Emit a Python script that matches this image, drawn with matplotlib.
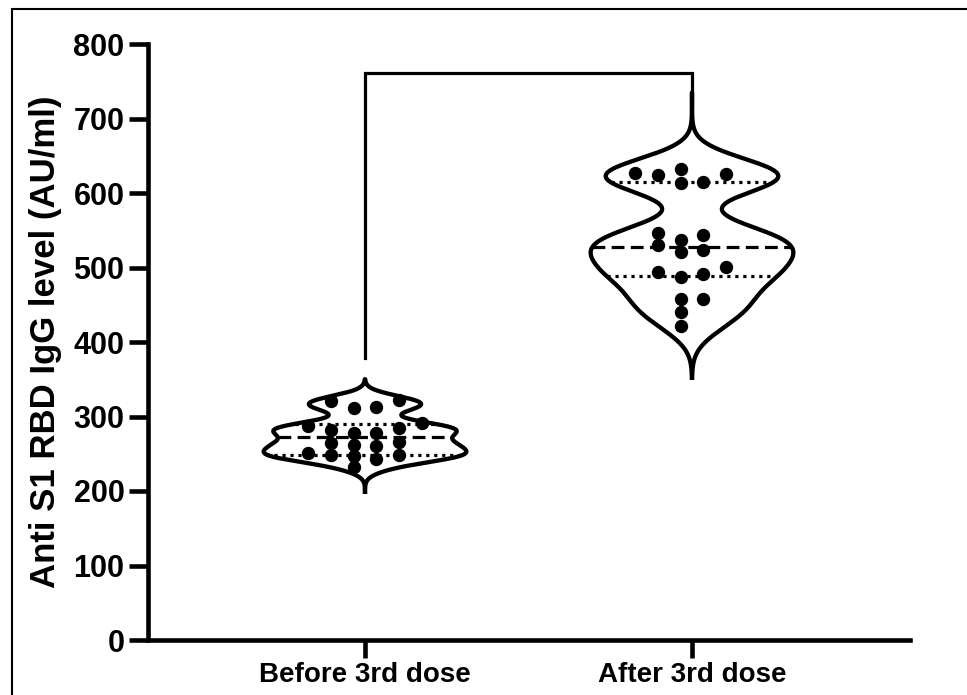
import numpy as np
import matplotlib
matplotlib.use("Agg")
import matplotlib.pyplot as plt
from matplotlib.patches import Rectangle

# ---------------- data ----------------
categories = ["Before 3rd dose", "After 3rd dose"]
before_vals = [321.2, 311.4, 322.1, 312.8, 287.2, 291.3, 284.6, 277.9, 281.9, 277.9,
               265.8, 261.7, 260.4, 264.4, 251.0, 247.0, 243.0, 248.3, 248.3, 232.2]
after_vals = [625.5, 631.8, 613.8, 614.4, 624.2, 626.4, 543.6, 546.7, 530.2, 536.9,
              521.2, 523.5, 487.7, 494.4, 491.3, 501.1, 457.7, 457.7, 440.7, 421.5]
violin_extent = [(199, 350), (352, 735)]
yticks = [0, 100, 200, 300, 400, 500, 600, 700, 800]
ylabel = "Anti S1 RBD IgG level (AU/ml)"
bracket_left_bottom = 378
bracket_top = 761
bracket_right_bottom = 731

groups = [before_vals, after_vals]

# ---------------- figure ----------------
plt.rcParams['font.family'] = ['Liberation Sans', 'DejaVu Sans']
plt.rcParams['font.weight'] = 'bold'
fig = plt.figure(figsize=(9.67, 6.95), dpi=100)
ax = fig.add_axes([148/967, 1-640/695, (910-148)/967, (640-44)/695])

half_width = 0.31
bw_factor = 0.33
for i, vals in enumerate(groups):
    v = np.asarray(vals, float)
    h = bw_factor * v.std(ddof=1)
    lo, hi = violin_extent[i]
    grid = np.linspace(lo, hi, 600)
    dens = np.exp(-0.5 * ((grid[:, None] - v[None, :]) / h) ** 2).sum(axis=1)
    scale = half_width / dens.max()
    w = dens * scale
    ax.fill_betweenx(grid, i - w, i + w, facecolor='white', edgecolor='none', zorder=1)
    xs = np.concatenate([i - w, (i + w)[::-1]])
    ys = np.concatenate([grid, grid[::-1]])
    ax.plot(xs, ys, color='black', lw=3.1, zorder=3, solid_joinstyle='round')

    def width_at(y):
        d = np.exp(-0.5 * ((y - v) / h) ** 2).sum()
        return d * scale

    srt = np.sort(v)
    n = len(srt)
    def pct(p):
        r = (n + 1) * p - 1
        k = int(np.floor(r))
        f = r - k
        return srt[k] + f * (srt[k + 1] - srt[k])
    med = np.median(v)
    q1, q3 = pct(0.25), pct(0.75)
    wm = width_at(med)
    ax.plot([i - wm, i + wm], [med, med], color='black', lw=2.3,
            linestyle=(0, (4.0, 2.0)), zorder=2)
    for q in (q1, q3):
        wq = width_at(q)
        ax.plot([i - wq, i + wq], [q, q], color='black', lw=2.3,
                linestyle=(0, (1.0, 1.5)), zorder=2)

    # column-scatter placement (greedy, avoids overlap)
    step = 0.0703
    slots = [-0.5, 0.5, -1.5, 1.5, -2.5, 2.5, -3.5, 3.5]
    placed = {s: [] for s in slots}
    px, py = [], []
    for val in np.sort(v):
        for s in slots:
            if all(abs(val - o) >= 14.0 for o in placed[s]):
                placed[s].append(val)
                px.append(i + s * step)
                py.append(val)
                break
    ax.plot(px, py, 'o', color='black', ms=8.6, zorder=4)

# significance bracket
ax.plot([0, 0, 1, 1], [bracket_left_bottom, bracket_top, bracket_top, bracket_right_bottom],
        color='black', lw=2.3, solid_joinstyle='miter', zorder=2)

ax.set_xlim((148-365)/327, (910-365)/327)
ax.set_ylim(0, 800)
ax.set_yticks(yticks)
ax.set_yticklabels([str(t) for t in yticks])
ax.set_xticks([0, 1])
ax.set_xticklabels(categories)
for s in ['top', 'right']:
    ax.spines[s].set_visible(False)
for s in ['left', 'bottom']:
    ax.spines[s].set_linewidth(3.3)
    ax.spines[s].set_capstyle('projecting')
ax.tick_params(axis='y', length=14, width=3.3, pad=3, labelsize=22)
ax.tick_params(axis='x', length=13, width=3.3, pad=2.5, labelsize=20)
for lab in ax.get_xticklabels() + ax.get_yticklabels():
    lab.set_fontweight('bold')
ax.set_ylabel(ylabel, fontsize=25, fontweight='bold', labelpad=8)

fig.add_artist(Rectangle((12/967, -0.05), 1.2, (695-9)/695 + 0.05, transform=fig.transFigure,
                         fill=False, edgecolor='black', lw=1.5))

fig.savefig("out.png", dpi=100)
